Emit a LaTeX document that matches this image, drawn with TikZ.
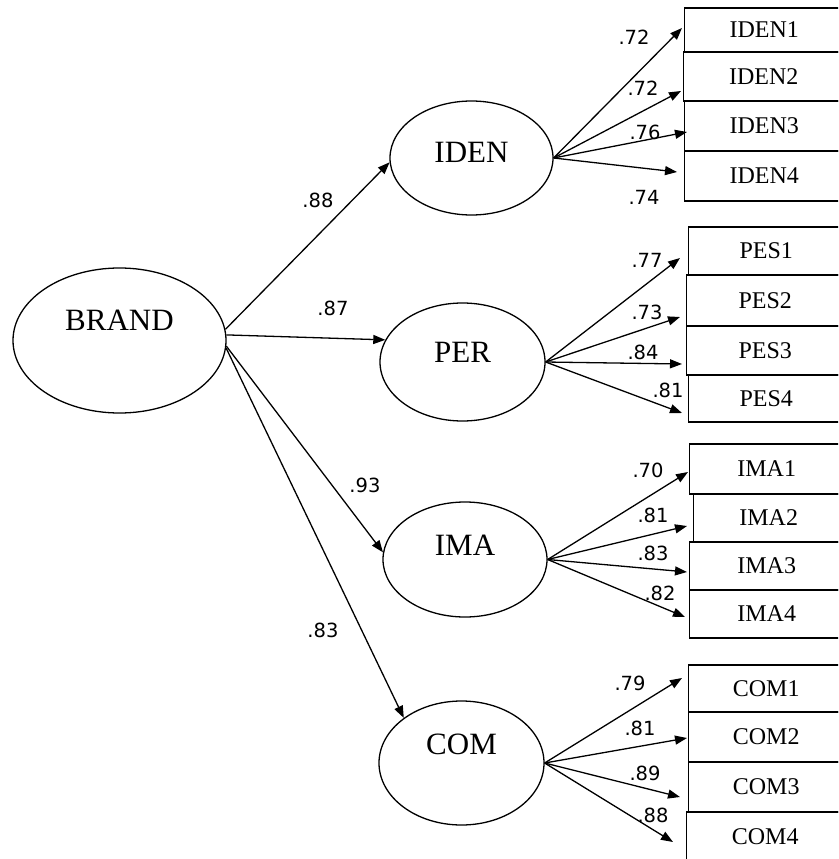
\documentclass[tikz,border=0pt]{standalone}
\usepackage{fontspec}
\setmainfont{Liberation Serif}
\newfontfamily\lblfont{DejaVu Sans}
\usetikzlibrary{arrows.meta,shapes.geometric}
\begin{document}
\begin{tikzpicture}[x=1pt,y=-1pt,
 lat/.style={ellipse,draw,line width=1.3pt,inner sep=0pt},
 obs/.style={rectangle,draw,line width=1.4pt,anchor=west,inner sep=0pt,font=\fontsize{24}{28}\selectfont},
 arr/.style={line width=1.3pt,-{Triangle[length=12pt,width=9pt]}},
 coef/.style={font=\lblfont\fontsize{19.5}{23}\selectfont,inner sep=0pt},
 ltext/.style={font=\fontsize{31}{36}\selectfont,inner sep=0pt}
]
\useasboundingbox (0,0) rectangle (838,859);
\clip (0,0) rectangle (838,859);

% latent variables
\node[lat,minimum width=213pt,minimum height=145pt,label={[ltext,yshift=20pt]center:BRAND}] (brand) at (119.5,340.5) {};
\node[lat,minimum width=163pt,minimum height=114pt,label={[ltext,yshift=6pt]center:IDEN}] (iden) at (471.5,158) {};
\node[lat,minimum width=165pt,minimum height=118pt,label={[ltext,yshift=10pt]center:PER}] (per) at (462.5,362) {};
\node[lat,minimum width=164pt,minimum height=115pt,label={[ltext,yshift=14pt]center:IMA}] (ima) at (465,559.5) {};
\node[lat,minimum width=165pt,minimum height=124pt,label={[ltext,yshift=19pt]center:COM}] (com) at (461.5,763) {};

% indicators
\node[obs,minimum width=159pt,minimum height=44pt] (iden1) at (684,30) {IDEN1};
\node[obs,minimum width=160pt,minimum height=49pt] (iden2) at (683,76.5) {IDEN2};
\node[obs,minimum width=159pt,minimum height=50pt] (iden3) at (684,126) {IDEN3};
\node[obs,minimum width=159pt,minimum height=50pt] (iden4) at (684,176) {IDEN4};

\node[obs,minimum width=155pt,minimum height=48pt] (pes1) at (688,251) {PES1};
\node[obs,minimum width=157pt,minimum height=51pt] (pes2) at (686,300.5) {PES2};
\node[obs,minimum width=157pt,minimum height=49pt] (pes3) at (686,350.5) {PES3};
\node[obs,minimum width=155pt,minimum height=47pt] (pes4) at (688,398.5) {PES4};

\node[obs,minimum width=154pt,minimum height=50pt] (ima1) at (689,469) {IMA1};
\node[obs,minimum width=150pt,minimum height=48pt] (ima2) at (693,518) {IMA2};
\node[obs,minimum width=154pt,minimum height=48pt] (ima3) at (689,566) {IMA3};
\node[obs,minimum width=154pt,minimum height=48pt] (ima4) at (689,614) {IMA4};

\node[obs,minimum width=155pt,minimum height=47pt] (com1) at (688,688.5) {COM1};
\node[obs,minimum width=155pt,minimum height=50pt] (com2) at (688,737) {COM2};
\node[obs,minimum width=155pt,minimum height=50pt] (com3) at (688,787) {COM3};
\node[obs,minimum width=157pt,minimum height=50pt] (com4) at (686,837) {COM4};

% structural paths
\draw[arr] (brand.6) -- (iden.183);
\draw[arr] (brand.3) -- (per.164);
\draw[arr] (brand.-3) -- (ima.175);
\draw[arr] (brand.-4) -- (com.142);

% measurement paths
\draw[arr] (iden.east) -- ([shift={(-2,-2)}]iden1.west);
\draw[arr] (iden.east) -- ([shift={(-2,14.5)}]iden2.west);
\draw[arr] (iden.east) -- ([shift={(3,6)}]iden3.west);
\draw[arr] (iden.east) -- ([shift={(-7,-4)}]iden4.west);

\draw[arr] (per.east) -- ([shift={(-8,7)}]pes1.west);
\draw[arr] (per.east) -- ([shift={(-6,16.5)}]pes2.west);
\draw[arr] (per.east) -- ([shift={(-4,13.5)}]pes3.west);
\draw[arr] (per.east) -- ([shift={(-6,14.5)}]pes4.west);

\draw[arr] (ima.east) -- ([shift={(-1,3)}]ima1.west);
\draw[arr] (ima.east) -- ([shift={(-6,8)}]ima2.west);
\draw[arr] (ima.east) -- ([shift={(-2,6)}]ima3.west);
\draw[arr] (ima.east) -- ([shift={(-4,3)}]ima4.west);

\draw[arr] (com.east) -- ([shift={(-6,-10.5)}]com1.west);
\draw[arr] (com.east) -- ([shift={(-1,1)}]com2.west);
\draw[arr] (com.east) -- ([shift={(-8,10)}]com3.west);
\draw[arr] (com.east) -- ([shift={(-13,5)}]com4.west);

% coefficients
\node[coef] (kb1) at (318,200) {.88};
\node[coef] (kb2) at (333,308) {.87};
\node[coef] (kb3) at (365,485) {.93};
\node[coef] (kb4) at (323,630) {.83};

\node[coef] (ki1) at (634,37) {.72};
\node[coef] (ki2) at (643,88) {.72};
\node[coef] (ki3) at (645,132) {.76};
\node[coef] (ki4) at (644,197) {.74};

\node[coef] (kp1) at (647,260) {.77};
\node[coef] (kp2) at (647,312) {.73};
\node[coef] (kp3) at (643,352) {.84};
\node[coef] (kp4) at (668,390) {.81};

\node[coef] (km1) at (648,470) {.70};
\node[coef] (km2) at (653,515) {.81};
\node[coef] (km3) at (653,553) {.83};
\node[coef] (km4) at (660,593) {.82};

\node[coef] (kc1) at (630,683) {.79};
\node[coef] (kc2) at (640,728) {.81};
\node[coef] (kc3) at (645,773) {.89};
\node[coef] (kc4) at (653,815) {.88};
\end{tikzpicture}
\end{document}
